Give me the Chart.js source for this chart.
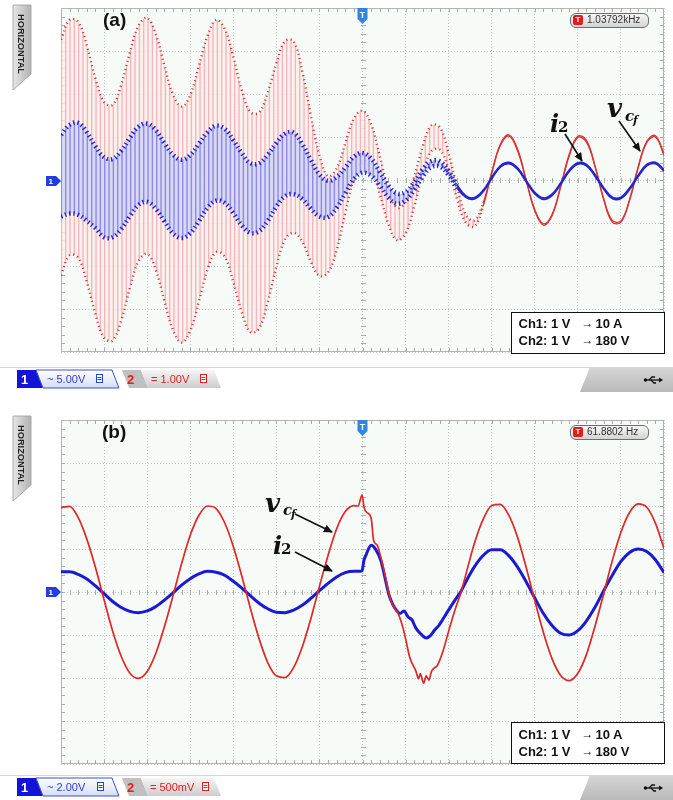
<!DOCTYPE html>
<html lang="en">
<head>
<meta charset="utf-8">
<title>Oscilloscope waveforms: (a) and (b)</title>
<script src="https://cdn.jsdelivr.net/npm/chart.js@4.4.1/dist/chart.umd.min.js"></script>
<style>
  html,body{margin:0;padding:0;background:#fff;}
  body{position:relative;width:673px;height:800px;overflow:hidden;font-family:"Liberation Sans",Arial,sans-serif;}
  canvas{position:absolute;left:0;}
  #chartA{top:0;} #chartB{top:400px;}
  #deco{position:absolute;left:0;top:0;}
  .ov{position:absolute;white-space:nowrap;}
  .panel{font:bold 19px "Liberation Sans",Arial,sans-serif;color:#111;line-height:19px;}
  .badge{box-sizing:border-box;width:79px;height:15px;border:1.5px solid #6e6e6e;border-radius:6px;background:linear-gradient(#f6f6f6,#d4d4d4);font-size:10px;color:#333;}
  .badge .ic{position:absolute;left:2px;top:1px;width:10px;height:10px;background:#e21c1c;border-radius:2px;color:#fff;font-weight:bold;font-size:8px;line-height:10px;text-align:center;}
  .badge .tx{position:absolute;left:16px;top:0;line-height:12px;}
  .legend{box-sizing:border-box;width:154px;height:42px;border:1.5px solid #111;background:#fff;font:bold 13px "Liberation Sans",Arial,sans-serif;color:#111;}
  .legend span{position:absolute;line-height:13px;white-space:nowrap;}
  .legend .ar{font-weight:normal;font-size:12px;}
  .m{position:absolute;font-family:"DejaVu Serif",serif;font-style:italic;font-weight:bold;color:#111;white-space:nowrap;}
</style>
</head>
<body>
<canvas id="chartA" width="673" height="400"></canvas>
<canvas id="chartB" width="673" height="400"></canvas>

<svg id="deco" width="673" height="800" xmlns="http://www.w3.org/2000/svg">
  <defs>
    <linearGradient id="gTab" x1="0" y1="0" x2="1" y2="0"><stop offset="0" stop-color="#e6e6e6"/><stop offset="1" stop-color="#b2b2b2"/></linearGradient>
    <linearGradient id="g1" x1="0" y1="0" x2="0" y2="1"><stop offset="0" stop-color="#ffffff"/><stop offset="1" stop-color="#d6dcf6"/></linearGradient>
    <linearGradient id="g2" x1="0" y1="0" x2="0" y2="1"><stop offset="0" stop-color="#f6f6f6"/><stop offset="1" stop-color="#cdcdcd"/></linearGradient>
    <linearGradient id="g3" x1="0" y1="0" x2="0" y2="1"><stop offset="0" stop-color="#d6d6d6"/><stop offset="1" stop-color="#b9b9b9"/></linearGradient>
    <marker id="ah" markerWidth="9" markerHeight="8" refX="8" refY="4" orient="auto" markerUnits="userSpaceOnUse"><path d="M0,0 L9,4 L0,8 z" fill="#111"/></marker>
  </defs>

  <!-- HORIZONTAL tabs -->
  <g>
    <polygon points="13,5 31,5 31,74 13,90" fill="url(#gTab)" stroke="#9c9c9c" stroke-width="0.8"/>
    <text transform="translate(17.5,14) rotate(90)" font-family="Liberation Sans, Arial, sans-serif" font-size="9" font-weight="bold" fill="#222" textLength="60" lengthAdjust="spacingAndGlyphs">HORIZONTAL</text>
  </g>
  <g transform="translate(0,411)">
    <polygon points="13,5 31,5 31,74 13,90" fill="url(#gTab)" stroke="#9c9c9c" stroke-width="0.8"/>
    <text transform="translate(17.5,14) rotate(90)" font-family="Liberation Sans, Arial, sans-serif" font-size="9" font-weight="bold" fill="#222" textLength="60" lengthAdjust="spacingAndGlyphs">HORIZONTAL</text>
  </g>

  <!-- channel 1 ground markers -->
  <g transform="translate(0,181)">
    <polygon points="46,-5 56,-5 61,0 56,5 46,5" fill="#1f3fe0"/>
    <text x="48.5" y="3.2" font-family="Liberation Sans, Arial, sans-serif" font-size="8" font-weight="bold" fill="#fff">1</text>
  </g>
  <g transform="translate(0,592)">
    <polygon points="46,-5 56,-5 61,0 56,5 46,5" fill="#1f3fe0"/>
    <text x="48.5" y="3.2" font-family="Liberation Sans, Arial, sans-serif" font-size="8" font-weight="bold" fill="#fff">1</text>
  </g>

  <!-- trigger markers -->
  <g transform="translate(362.5,8)">
    <path d="M-5,0 H5 V11 L0,16 L-5,11 Z" fill="#2f86e0"/>
    <text x="0" y="10" text-anchor="middle" font-family="Liberation Sans, Arial, sans-serif" font-size="9" font-weight="bold" fill="#fff">T</text>
  </g>
  <g transform="translate(362.5,420)">
    <path d="M-5,0 H5 V11 L0,16 L-5,11 Z" fill="#2f86e0"/>
    <text x="0" y="10" text-anchor="middle" font-family="Liberation Sans, Arial, sans-serif" font-size="9" font-weight="bold" fill="#fff">T</text>
  </g>

  <!-- annotation arrows -->
  <line x1="565" y1="134" x2="582" y2="161" stroke="#111" stroke-width="1.6" marker-end="url(#ah)"/>
  <line x1="619" y1="121" x2="640" y2="151" stroke="#111" stroke-width="1.6" marker-end="url(#ah)"/>
  <line x1="295" y1="514" x2="332" y2="532" stroke="#111" stroke-width="1.6" marker-end="url(#ah)"/>
  <line x1="295" y1="552" x2="332" y2="571" stroke="#111" stroke-width="1.6" marker-end="url(#ah)"/>

  <!-- status bars -->
  <g id="barA">
    <line x1="0" y1="367.5" x2="590" y2="367.5" stroke="#d6d6d6"/>
    <polygon points="17,370 36,370 43,388 17,388" fill="#1414d8"/>
    <polygon points="36,370 112,370 119,388 43,388" fill="url(#g1)" stroke="#3a52d0" stroke-width="1"/>
    <text x="21" y="384" font-family="Liberation Sans, Arial, sans-serif" fill="#fff" font-weight="bold" font-size="13">1</text>
    <text x="47" y="382.5" font-family="Liberation Sans, Arial, sans-serif" fill="#2a46c8" font-size="11">~ 5.00V</text>
    <rect x="96.5" y="374.5" width="6" height="8" fill="#fff" stroke="#2a46c8" stroke-width="1"/>
    <line x1="97.5" y1="377.5" x2="101.5" y2="377.5" stroke="#2a46c8"/>
    <line x1="97.5" y1="379.5" x2="101.5" y2="379.5" stroke="#2a46c8"/>
    <polygon points="122,370 141,370 148,388 129,388" fill="#c0c0c0"/>
    <polygon points="141,370 214,370 221,388 148,388" fill="url(#g2)"/>
    <text x="127" y="384" font-family="Liberation Sans, Arial, sans-serif" fill="#e02020" font-weight="bold" font-size="13">2</text>
    <text x="151" y="382.5" font-family="Liberation Sans, Arial, sans-serif" fill="#e02020" font-size="11">= 1.00V</text>
    <rect x="200.5" y="374.5" width="6" height="8" fill="#fff" stroke="#e02020" stroke-width="1"/>
    <line x1="201.5" y1="377.5" x2="205.5" y2="377.5" stroke="#e02020"/>
    <line x1="201.5" y1="379.5" x2="205.5" y2="379.5" stroke="#e02020"/>
    <polygon points="590,367 673,367 673,392 580,392" fill="url(#g3)"/>
    <g stroke="#111" stroke-width="1.3" fill="none">
      <line x1="646" y1="380" x2="659" y2="380"/>
      <path d="M649,380 L652,377 L655,377"/>
      <path d="M651,380 L654,383 L656,383"/>
    </g>
    <circle cx="645.5" cy="380" r="1.8" fill="#111"/>
    <polygon points="659,377.5 663,380 659,382.5" fill="#111"/>
  </g>
  <g id="barB" transform="translate(0,408)">
    <line x1="0" y1="367.5" x2="590" y2="367.5" stroke="#d6d6d6"/>
    <polygon points="17,370 36,370 43,388 17,388" fill="#1414d8"/>
    <polygon points="36,370 112,370 119,388 43,388" fill="url(#g1)" stroke="#3a52d0" stroke-width="1"/>
    <text x="21" y="384" font-family="Liberation Sans, Arial, sans-serif" fill="#fff" font-weight="bold" font-size="13">1</text>
    <text x="47" y="382.5" font-family="Liberation Sans, Arial, sans-serif" fill="#2a46c8" font-size="11">~ 2.00V</text>
    <rect x="97.5" y="374.5" width="6" height="8" fill="#fff" stroke="#2a46c8" stroke-width="1"/>
    <line x1="98.5" y1="377.5" x2="102.5" y2="377.5" stroke="#2a46c8"/>
    <line x1="98.5" y1="379.5" x2="102.5" y2="379.5" stroke="#2a46c8"/>
    <polygon points="122,370 141,370 148,388 129,388" fill="#c0c0c0"/>
    <polygon points="141,370 214,370 221,388 148,388" fill="url(#g2)"/>
    <text x="127" y="384" font-family="Liberation Sans, Arial, sans-serif" fill="#e02020" font-weight="bold" font-size="13">2</text>
    <text x="150" y="382.5" font-family="Liberation Sans, Arial, sans-serif" fill="#e02020" font-size="11">= 500mV</text>
    <rect x="202.5" y="374.5" width="6" height="8" fill="#fff" stroke="#e02020" stroke-width="1"/>
    <line x1="203.5" y1="377.5" x2="207.5" y2="377.5" stroke="#e02020"/>
    <line x1="203.5" y1="379.5" x2="207.5" y2="379.5" stroke="#e02020"/>
    <polygon points="590,367 673,367 673,392 580,392" fill="url(#g3)"/>
    <g stroke="#111" stroke-width="1.3" fill="none">
      <line x1="646" y1="380" x2="659" y2="380"/>
      <path d="M649,380 L652,377 L655,377"/>
      <path d="M651,380 L654,383 L656,383"/>
    </g>
    <circle cx="645.5" cy="380" r="1.8" fill="#111"/>
    <polygon points="659,377.5 663,380 659,382.5" fill="#111"/>
  </g>
</svg>

<!-- panel (a) texts -->
<div class="ov panel" style="left:103px;top:10px;">(a)</div>
<div class="ov badge" style="left:570px;top:13px;"><span class="ic">T</span><span class="tx">1.03792kHz</span></div>
<div class="ov legend" style="left:511px;top:312px;">
  <span style="left:6.5px;top:3.5px;">Ch1: 1 V</span><span class="ar" style="left:69.5px;top:3.5px;">→</span><span style="left:83.5px;top:3.5px;">10 A</span>
  <span style="left:6.5px;top:20.5px;">Ch2: 1 V</span><span class="ar" style="left:69.5px;top:20.5px;">→</span><span style="left:83.5px;top:20.5px;">180 V</span>
</div>
<span class="m" style="left:550px;top:112px;font-size:24px;line-height:24px;">i</span>
<span class="m" style="left:558px;top:120px;font-size:15px;line-height:15px;font-style:normal;">2</span>
<span class="m" style="left:607px;top:95px;font-size:26px;line-height:26px;">v</span>
<span class="m" style="left:625px;top:109px;font-size:15px;line-height:15px;">c</span>
<span class="m" style="left:633px;top:115px;font-size:11px;line-height:11px;">f</span>

<!-- panel (b) texts -->
<div class="ov panel" style="left:102px;top:422px;">(b)</div>
<div class="ov badge" style="left:570px;top:425px;"><span class="ic">T</span><span class="tx">61.8802 Hz</span></div>
<div class="ov legend" style="left:511px;top:722px;">
  <span style="left:6.5px;top:5px;">Ch1: 1 V</span><span class="ar" style="left:69.5px;top:5px;">→</span><span style="left:83.5px;top:5px;">10 A</span>
  <span style="left:6.5px;top:21.5px;">Ch2: 1 V</span><span class="ar" style="left:69.5px;top:21.5px;">→</span><span style="left:83.5px;top:21.5px;">180 V</span>
</div>
<span class="m" style="left:265px;top:490px;font-size:26px;line-height:26px;">v</span>
<span class="m" style="left:283px;top:503px;font-size:15px;line-height:15px;">c</span>
<span class="m" style="left:291px;top:509px;font-size:11px;line-height:11px;">f</span>
<span class="m" style="left:273px;top:534px;font-size:24px;line-height:24px;">i</span>
<span class="m" style="left:281px;top:542px;font-size:15px;line-height:15px;font-style:normal;">2</span>

<script>
// ---------------- DATA (y in divisions, 0 = channel ground) ----------------
// Panel (a): 10 ms/div, samples every 2 ms from 0 to 140 ms.
// Upper / lower envelope of the v_cf (red) trace
const vcfHiA = [3.26,3.73,3.67,3.12,2.36,1.81,1.75,2.22,2.97,3.59,3.77,3.39,2.67,1.99,1.71,1.97,2.65,
  3.35,3.72,3.52,2.87,2.08,1.58,1.57,2.04,2.72,3.23,3.23,2.53,1.50,0.57,0.09,0.27,0.85,1.43,1.61,1.30,0.56,
  -0.20,-0.64,-0.52,0.06,0.78,1.27,1.22,0.62,-0.18,-0.81,-0.94,-0.54,
  0.18,0.83,1.05,0.72,0.01,-0.69,-1.02,-0.80,-0.14,0.60,1.02,0.92,0.33,-0.43,-0.94,-0.95,-0.45,0.31,0.90,1.03,0.61];
const vcfLoA = [-2.22,-1.75,-1.81,-2.37,-3.12,-3.67,-3.73,-3.26,-2.51,-1.89,-1.72,-2.09,-2.81,-3.49,-3.78,-3.51,-2.83,
  -2.09,-1.68,-1.78,-2.37,-3.08,-3.54,-3.45,-2.84,-2.02,-1.39,-1.23,-1.43,-1.90,-2.23,-2.15,-1.63,-0.77,0.03,0.45,0.28,-0.32,
  -1.02,-1.40,-1.24,-0.62,0.16,0.67,0.70,0.24,-0.46,-0.99,-1.08,-0.61,
  0.15,0.80,1.02,0.68,-0.02,-0.72,-1.05,-0.83,-0.17,0.56,0.99,0.88,0.30,-0.46,-0.98,-0.98,-0.48,0.28,0.87,1.00,0.58];
// Upper / lower envelope of the i2 (blue) trace
const i2HiA = [1.05,1.28,1.33,1.11,0.78,0.53,0.49,0.68,0.98,1.24,1.31,1.16,0.86,0.59,0.47,0.58,0.84,
  1.11,1.26,1.19,0.93,0.62,0.39,0.39,0.59,0.86,1.08,1.10,0.84,0.47,0.13,-0.02,0.07,0.29,0.54,0.63,0.50,0.19,
  -0.13,-0.31,-0.28,-0.05,0.25,0.44,0.43,0.20,-0.12,
  -0.37,-0.41,-0.24,0.06,0.33,0.41,0.28,-0.01,-0.29,-0.42,-0.33,-0.07,0.23,0.40,0.36,0.12,-0.18,-0.40,-0.40,-0.19,0.11,0.36,0.41,0.24];
const i2LoA = [-0.85,-0.78,-0.81,-0.95,-1.12,-1.33,-1.33,-1.14,-0.84,-0.58,-0.51,-0.67,-0.96,-1.24,-1.35,-1.24,-0.96,
  -0.65,-0.48,-0.53,-0.77,-1.06,-1.23,-1.19,-0.95,-0.62,-0.38,-0.33,-0.44,-0.67,-0.85,-0.86,-0.65,-0.31,0.02,0.17,0.10,-0.13,
  -0.41,-0.55,-0.48,-0.23,0.09,0.30,0.31,0.11,-0.19,
  -0.40,-0.44,-0.27,0.03,0.30,0.38,0.25,-0.04,-0.32,-0.45,-0.36,-0.10,0.20,0.37,0.33,0.09,-0.21,-0.43,-0.43,-0.22,0.08,0.33,0.38,0.21];
const timeA = vcfHiA.map((_, i) => i * 2);   // ms

// Panel (b): 5 ms/div, 0 to 70 ms.
const timeVB = [0,1,2,3,4,5,6,7,8,9,10,11,12,13,14,15,16,17,18,19,20,21,22,23,24,25,26,27,28,29,30,31,32,33,34,
  34.5,34.95,35.2,35.5,36.0,36.3,36.7,37.15,37.6,38.1,38.5,39.2,39.8,40.5,41.2,41.5,41.7,42.1,42.4,42.7,43.0,43.3,43.65,44.35,45.0,45.7,46.45,
  47,48,49,50,51,52,53,54,55,56,57,58,59,60,61,62,63,64,65,66,67,68,69,70];
const vcfB = [1.96,1.99,1.73,1.23,0.57,-0.18,-0.91,-1.50,-1.89,-2.01,-1.85,-1.43,-0.81,-0.09,0.66,1.32,1.78,2.00,1.94,1.61,1.06,0.36,-0.39,-1.09,-1.64,-1.95,-1.99,-1.76,-1.28,-0.62,0.13,0.85,1.47,1.87,2.01,
  2.00,2.26,1.95,1.85,1.72,1.19,1.09,0.79,0.40,-0.07,-0.30,-0.53,-0.91,-1.53,-1.84,-2.02,-1.90,-2.12,-1.95,-2.05,-1.85,-1.77,-1.72,-1.37,-0.91,-0.44,0.00,
  0.41,1.14,1.69,2.01,2.04,1.78,1.27,0.57,-0.20,-0.94,-1.55,-1.94,-2.06,-1.89,-1.45,-0.79,-0.04,0.73,1.39,1.85,2.05,1.97,1.60,1.01];
const timeIB = [0,1,2,3,4,5,6,7,8,9,10,11,12,13,14,15,16,17,18,19,20,21,22,23,24,25,26,27,28,29,30,31,32,33,34,
  34.5,34.95,35.17,35.4,36.0,36.57,37.15,37.61,38.08,38.54,39.0,39.35,39.8,40.3,40.75,41.2,41.8,42.4,42.85,43.4,43.9,44.8,45.7,46.44,
  47,48,49,50,51,52,53,54,55,56,57,58,59,60,61,62,63,64,65,66,67,68,69,70];
const i2B = [0.47,0.47,0.41,0.30,0.14,-0.04,-0.22,-0.36,-0.45,-0.48,-0.44,-0.34,-0.19,-0.02,0.16,0.31,0.42,0.48,0.46,0.39,0.25,0.09,-0.09,-0.26,-0.39,-0.47,-0.48,-0.42,-0.31,-0.15,0.03,0.20,0.35,0.45,0.48,
  0.48,0.49,0.74,0.86,1.09,0.98,0.72,0.33,-0.07,-0.30,-0.44,-0.50,-0.44,-0.58,-0.65,-0.84,-0.98,-1.07,-1.02,-0.88,-0.77,-0.48,-0.20,0.02,
  0.24,0.59,0.85,0.98,0.98,0.84,0.58,0.24,-0.14,-0.50,-0.78,-0.96,-1.00,-0.90,-0.67,-0.35,0.03,0.39,0.71,0.92,1.00,0.94,0.75,0.45];

// ---------------- helpers ----------------
const pts = (xs, ys) => ys.map((v, i) => ({ x: xs[i], y: v }));

function stripes(bg, fg) {
  const c = document.createElement('canvas');
  c.width = 13; c.height = 4;
  const g = c.getContext('2d');
  g.fillStyle = bg; g.fillRect(0, 0, 13, 4);
  g.fillStyle = fg;
  [0, 4.33, 8.67].forEach(x => g.fillRect(x, 0, 1.4, 4));
  return g.createPattern(c, 'repeat');
}

const scopePlugin = {
  id: 'scope',
  beforeDraw(chart) {
    const { ctx, chartArea: a } = chart;
    ctx.save();
    ctx.fillStyle = '#f7fbf7';
    ctx.fillRect(a.left, a.top, a.right - a.left, a.bottom - a.top);
    ctx.restore();
  },
  beforeDatasetsDraw(chart) {
    const { ctx, chartArea: a, scales: { x, y } } = chart;
    ctx.save();
    ctx.strokeStyle = '#b4b4b4';
    ctx.lineWidth = 1;
    ctx.strokeRect(a.left + 0.5, a.top + 0.5, a.right - a.left - 1, a.bottom - a.top - 1);
    ctx.strokeStyle = '#acacac';
    ctx.beginPath();
    const step = (x.max - x.min) / 70;
    const cy = Math.round(y.getPixelForValue(0)) + 0.5;
    const cx = Math.round(x.getPixelForValue((x.min + x.max) / 2)) + 0.5;
    for (let i = 1; i < 70; i++) {
      const px = Math.round(x.getPixelForValue(x.min + i * step)) + 0.5;
      ctx.moveTo(px, a.top); ctx.lineTo(px, a.top + 4);
      ctx.moveTo(px, a.bottom); ctx.lineTo(px, a.bottom - 4);
      ctx.moveTo(px, cy - 2.5); ctx.lineTo(px, cy + 2.5);
    }
    for (let j = 1; j < 40; j++) {
      const py = Math.round(y.getPixelForValue(-4 + j * 0.2)) + 0.5;
      ctx.moveTo(a.left, py); ctx.lineTo(a.left + 4, py);
      ctx.moveTo(a.right, py); ctx.lineTo(a.right - 4, py);
      ctx.moveTo(cx - 2.5, py); ctx.lineTo(cx + 2.5, py);
    }
    ctx.stroke();
    ctx.restore();
  }
};

function scopeScales(xmax, xstep) {
  const grid = { color: '#c4c4c4', lineWidth: 1, drawTicks: false };
  const border = { display: false, dash: [1, 2] };
  return {
    x: { type: 'linear', min: 0, max: xmax, ticks: { display: false, stepSize: xstep }, grid, border },
    y: { type: 'linear', min: -4, max: 4, ticks: { display: false, stepSize: 1 }, grid, border }
  };
}

const baseOptions = (xmax, xstep, padTop, padBottom, tension) => ({
  responsive: false,
  animation: false,
  events: [],
  layout: { padding: { left: 61, right: 9, top: padTop, bottom: padBottom } },
  elements: { point: { radius: 0 }, line: { tension } },
  plugins: { legend: { display: false }, tooltip: { enabled: false } },
  scales: scopeScales(xmax, xstep)
});

const envSeg = (cut, dash, wTip, wLine) => ({
  borderDash: c => (c.p0.parsed.x < cut ? dash : []),
  borderWidth: c => (c.p0.parsed.x < cut ? wTip : wLine)
});

// ---------------- chart (a) ----------------
const blueBand = stripes('rgba(214,214,246,0.92)', 'rgba(96,96,214,0.62)');
const redBand = stripes('rgba(252,238,238,0.85)', 'rgba(238,150,150,0.62)');

new Chart(document.getElementById('chartA'), {
  type: 'line',
  data: {
    datasets: [
      { label: 'i2 upper', data: pts(timeA, i2HiA), borderColor: '#2525cc', borderWidth: 1.8, fill: false,
        segment: envSeg(92, [1.4, 2.9], 4.5, 1.8) },
      { label: 'i2 lower', data: pts(timeA, i2LoA), borderColor: '#2525cc', borderWidth: 1.8, fill: '-1',
        backgroundColor: blueBand, segment: envSeg(92, [1.4, 2.9], 4.5, 1.8) },
      { label: 'vcf upper', data: pts(timeA, vcfHiA), borderColor: '#d83434', borderWidth: 1.3, fill: false,
        segment: envSeg(98, [1.1, 3.2], 2.4, 1.3) },
      { label: 'vcf lower', data: pts(timeA, vcfLoA), borderColor: '#d83434', borderWidth: 1.3, fill: '-1',
        backgroundColor: redBand, segment: envSeg(98, [1.1, 3.2], 2.4, 1.3) }
    ]
  },
  options: baseOptions(140, 10, 8, 48, 0.4),
  plugins: [scopePlugin]
});

// ---------------- chart (b) ----------------
new Chart(document.getElementById('chartB'), {
  type: 'line',
  data: {
    datasets: [
      { label: 'vcf', data: pts(timeVB, vcfB), borderColor: '#e02626', borderWidth: 1.7, fill: false,
        cubicInterpolationMode: 'monotone' },
      { label: 'i2', data: pts(timeIB, i2B), borderColor: '#1a1ad4', borderWidth: 3, fill: false,
        cubicInterpolationMode: 'monotone' }
    ]
  },
  options: baseOptions(70, 5, 20, 36, 0.3),
  plugins: [scopePlugin]
});
</script>
</body>
</html>
